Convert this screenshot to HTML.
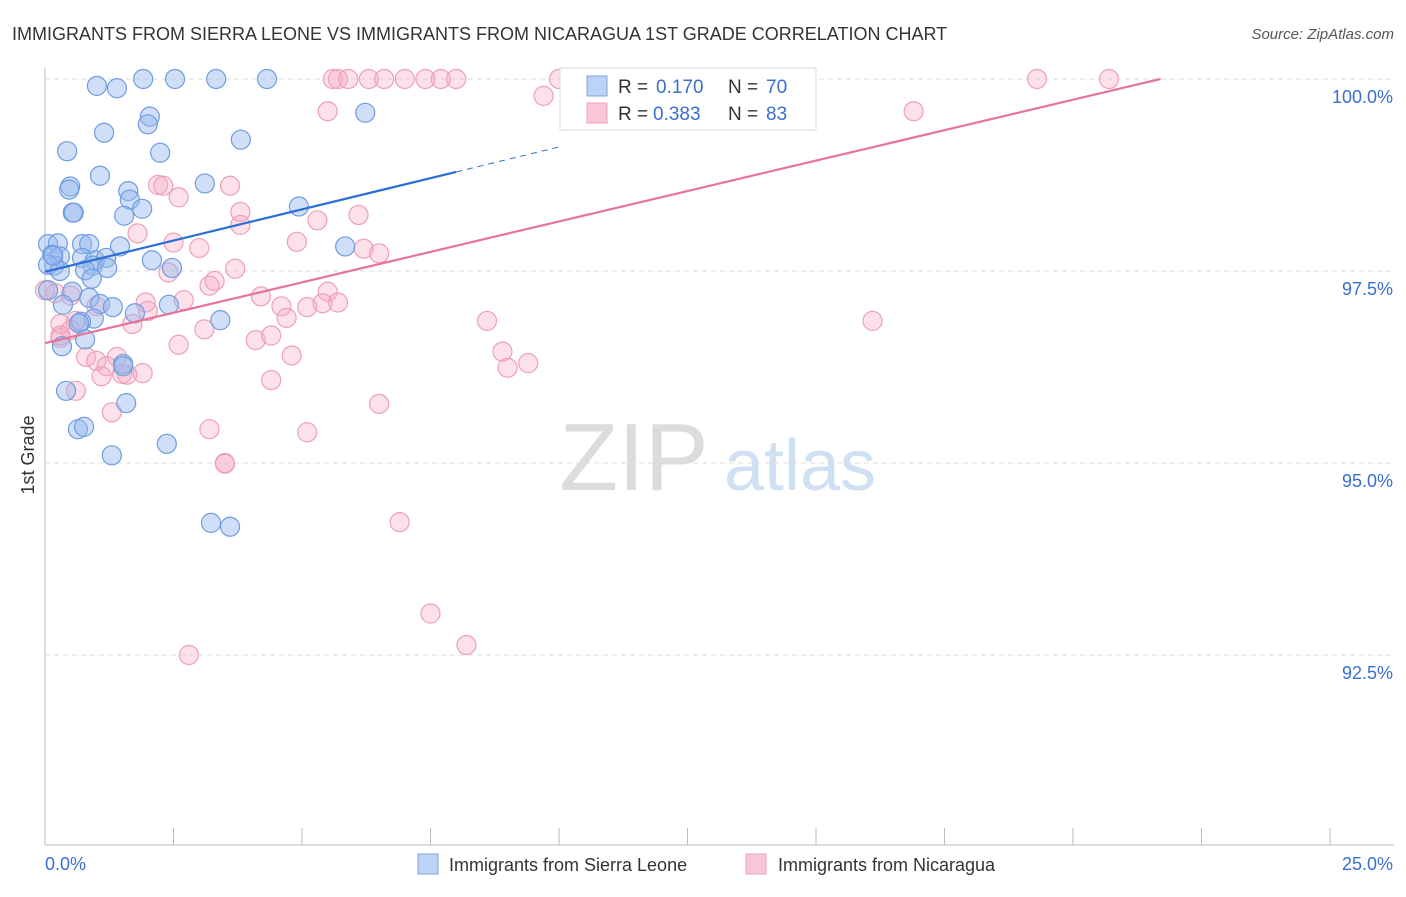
<!DOCTYPE html>
<html><head><meta charset="utf-8"><style>
body{margin:0;background:#fff;font-family:"Liberation Sans",sans-serif;}
svg text{font-family:"Liberation Sans",sans-serif;}
</style></head><body>
<svg id="chart" width="1406" height="892" xmlns="http://www.w3.org/2000/svg">
<text x="12" y="40" font-size="18" fill="#333">IMMIGRANTS FROM SIERRA LEONE VS IMMIGRANTS FROM NICARAGUA 1ST GRADE CORRELATION CHART</text>
<text x="1394" y="39" font-size="15" fill="#555" text-anchor="end" font-style="italic">Source: ZipAtlas.com</text>
<text x="634" y="490" font-size="96" fill="#dcdcdc" font-family="Liberation Serif" text-anchor="middle">ZIP</text>
<text x="800" y="490" font-size="72" fill="#cfe0f3" text-anchor="middle">atlas</text>
<text transform="translate(34,455) rotate(-90)" font-size="18" fill="#333" text-anchor="middle">1st Grade</text>
<g id="grid"></g><g id="pts"></g><g id="lines"></g>
<g>
<rect x="560" y="68" width="256" height="62" fill="#fff" stroke="#ddd"/>
<rect x="587" y="76" width="20" height="20" fill="#bcd3f5" stroke="#7ea6e0"/>
<text x="618" y="93" font-size="19" fill="#333">R =</text><text x="656" y="93" font-size="19" fill="#3a6fd0">0.170</text>
<text x="728" y="93" font-size="19" fill="#333">N =</text><text x="766" y="93" font-size="19" fill="#3a6fd0">70</text>
<rect x="587" y="103" width="20" height="20" fill="#f9c6d5" stroke="#eea0b8"/>
<text x="618" y="120" font-size="19" fill="#333">R =</text><text x="653" y="120" font-size="19" fill="#3a6fd0">0.383</text>
<text x="728" y="120" font-size="19" fill="#333">N =</text><text x="766" y="120" font-size="19" fill="#3a6fd0">83</text>
</g>
<g>
<rect x="418" y="854" width="20" height="20" fill="#bcd3f5" stroke="#7ea6e0"/>
<text x="449" y="871" font-size="18" fill="#333">Immigrants from Sierra Leone</text>
<rect x="746" y="854" width="20" height="20" fill="#f9c6d5" stroke="#eea0b8"/>
<text x="778" y="871" font-size="18" fill="#333">Immigrants from Nicaragua</text>
</g>
</svg>
<script>
const xTicks=[0,2.5,5,7.5,10,12.5,15,17.5,20,22.5,25];
const yTicks=[100,97.5,95,92.5];
const yTickLabels=["100.0%","97.5%","95.0%","92.5%"];
const blueX=[1.01,1.40,1.91,2.53,3.33,4.32,6.23,2.04,2.00,1.15,0.43,2.24,3.81,1.07,0.49,0.47,1.62,3.11,1.65,0.54,0.56,1.89,1.54,4.94,0.06,0.25,0.72,0.86,1.46,0.14,0.29,0.72,0.97,1.19,2.08,0.18,0.93,1.21,0.78,2.47,5.84,0.06,0.29,0.91,0.53,0.86,1.07,1.32,0.35,2.41,1.75,0.95,0.70,0.66,3.41,0.78,0.33,1.52,1.52,0.41,1.58,0.64,0.76,1.30,2.37,3.23,3.60,0.16,0.06];
const blueY=[99.91,99.88,100,100,100,100,99.56,99.51,99.41,99.3,99.06,99.04,99.21,98.74,98.6,98.56,98.54,98.64,98.43,98.26,98.26,98.31,98.22,98.34,97.85,97.86,97.85,97.85,97.82,97.71,97.69,97.67,97.64,97.67,97.64,97.57,97.57,97.54,97.51,97.54,97.82,97.58,97.5,97.4,97.23,97.15,97.07,97.03,97.06,97.06,96.95,96.88,96.84,96.82,96.86,96.61,96.52,96.29,96.26,95.94,95.78,95.44,95.47,95.1,95.25,94.22,94.17,97.7,97.25];
const pinkX=[5.6,5.7,5.9,6.3,6.6,7.0,7.4,7.7,8.0,10.0,12.0,19.3,20.7,5.5,9.7,16.9,2.2,2.3,2.6,3.6,3.8,3.8,5.3,6.1,1.8,2.5,3.0,4.9,6.2,6.5,2.4,3.3,3.7,0.0,0.2,0.5,3.2,4.2,5.5,5.7,5.4,4.6,5.1,4.7,1.96,2.0,2.7,1.0,0.3,0.3,0.6,0.5,1.7,3.1,2.6,4.1,4.4,8.6,16.1,0.8,1.0,1.4,1.2,1.5,1.9,1.1,1.6,4.8,8.9,9.0,9.4,4.4,0.6,1.3,6.5,3.2,5.1,3.5,3.5,6.9,7.5,8.2,2.8,0.3];
const pinkY=[100,100,100,100,100,100,100,100,100,100,100,100,100,99.58,99.78,99.58,98.62,98.61,98.46,98.61,98.27,98.1,98.16,98.23,97.99,97.87,97.8,97.88,97.79,97.73,97.48,97.37,97.53,97.25,97.21,97.18,97.31,97.17,97.23,97.09,97.08,97.04,97.03,96.89,97.09,96.98,97.12,97.04,96.81,96.63,96.85,96.73,96.81,96.74,96.54,96.6,96.66,96.85,96.85,96.38,96.33,96.38,96.26,96.16,96.17,96.13,96.15,96.4,96.45,96.24,96.3,96.08,95.94,95.66,95.77,95.44,95.4,95.0,94.99,94.23,93.04,92.63,92.5,96.66];
const blueLine=[97.49,0.1625], pinkLine=[96.56,0.1585];
const X=v=>45+v/25*1285, Y=v=>79+(100-v)/2.5*192;
const NS="http://www.w3.org/2000/svg", svg=document.getElementById('chart');
function mk(t,a,p){const e=document.createElementNS(NS,t);for(const k in a)e.setAttribute(k,a[k]);(p||svg).appendChild(e);return e;}
const grid=document.getElementById('grid');
mk('line',{x1:45,y1:68,x2:45,y2:845,stroke:'#bbb'},grid);
mk('line',{x1:45,y1:845,x2:1394,y2:845,stroke:'#bbb'},grid);
xTicks.forEach(t=>{const l=mk('line',{x1:X(t),y1:828,x2:X(t),y2:845,stroke:'#bbb'},grid);

});
yTicks.forEach((t,i)=>{const l=mk('line',{x1:45,y1:Y(t),x2:1394,y2:Y(t),stroke:'#ddd','stroke-dasharray':'5,4'},grid);


const tx=mk('text',{x:1393,y:Y(t)+24,'font-size':18,fill:'#3a6fd0','text-anchor':'end'},grid);tx.textContent=yTickLabels[i];

});
const x0=mk('text',{x:45,y:870,'font-size':18,fill:'#3a6fd0'},grid);x0.textContent='0.0%';


const x1=mk('text',{x:1393,y:870,'font-size':18,fill:'#3a6fd0','text-anchor':'end'},grid);x1.textContent='25.0%';


const pts=document.getElementById('pts');
pinkX.forEach((x,i)=>{const c=mk('circle',{cx:X(x),cy:Y(pinkY[i]),r:9.5,fill:'rgba(245,170,195,0.35)',stroke:'#eea0b8','stroke-width':1.2},pts);

});
blueX.forEach((x,i)=>{const c=mk('circle',{cx:X(x),cy:Y(blueY[i]),r:9.5,fill:'rgba(150,185,238,0.45)',stroke:'#6f9de0','stroke-width':1.2},pts);

});
const lines=document.getElementById('lines');
const b1=mk('line',{x1:X(0),y1:Y(blueLine[0]),x2:X(8),y2:Y(blueLine[0]+blueLine[1]*8),stroke:'#2a6fd6','stroke-width':2.2},lines);


const b2=mk('line',{x1:X(8),y1:Y(blueLine[0]+blueLine[1]*8),x2:X(10),y2:Y(blueLine[0]+blueLine[1]*10),stroke:'#2a6fd6','stroke-width':1,'stroke-dasharray':'6,5'},lines);


const xe=(100-pinkLine[0])/pinkLine[1];
const p1=mk('line',{x1:X(0),y1:Y(pinkLine[0]),x2:X(xe),y2:Y(100),stroke:'#e8739a','stroke-width':2.2},lines);


</script>
</body></html>
